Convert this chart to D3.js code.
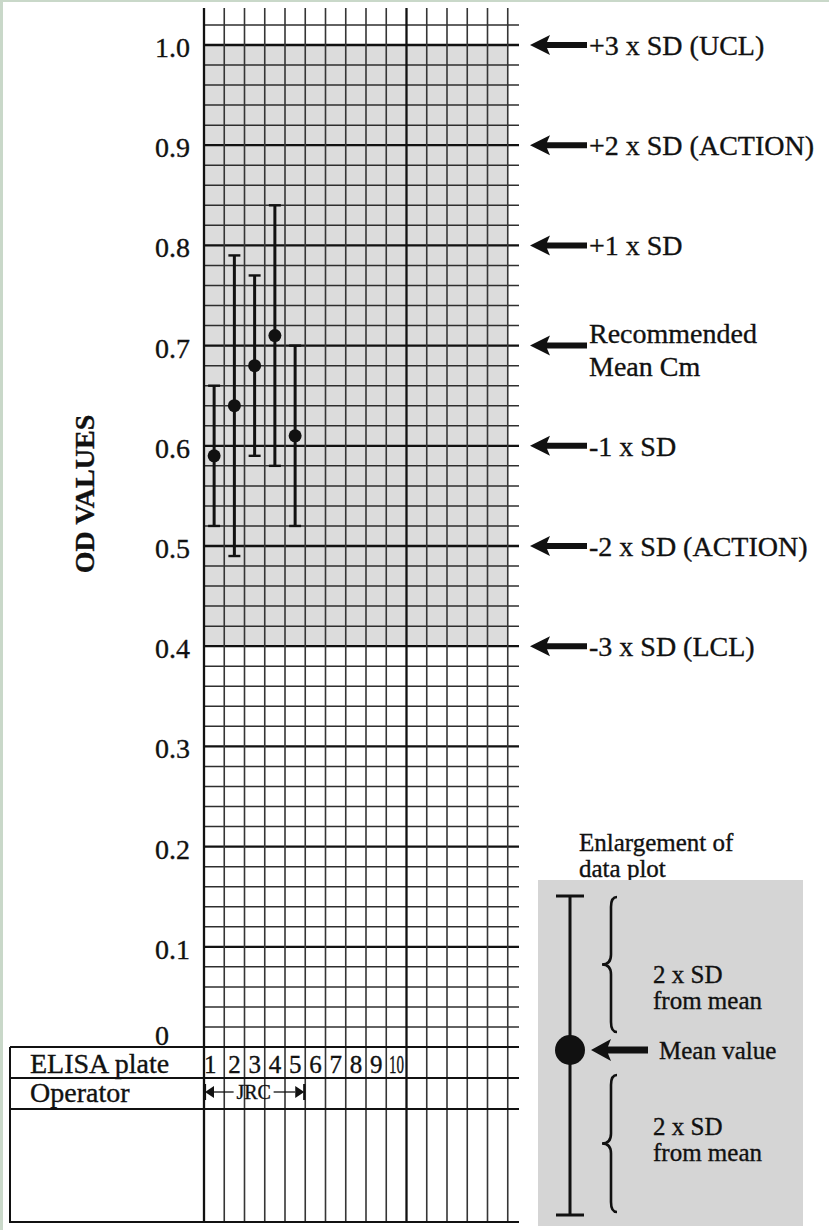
<!DOCTYPE html>
<html>
<head>
<meta charset="utf-8">
<script src="https://cdn.jsdelivr.net/npm/d3@7"></script>
<style>
  html, body { margin: 0; padding: 0; background: #fff; }
  svg { display: block; }
  text { font-family: "Liberation Serif", "DejaVu Serif", serif; fill: #111; stroke: #111; stroke-width: 0.35px; }
</style>
</head>
<body>
<div id="chart"></div>
<script>
// ---------- data ----------
const yTickValues = [0, 0.1, 0.2, 0.3, 0.4, 0.5, 0.6, 0.7, 0.8, 0.9, 1.0];
const yTickLabels = ["0", "0.1", "0.2", "0.3", "0.4", "0.5", "0.6", "0.7", "0.8", "0.9", "1.0"];
const plates = ["1", "2", "3", "4", "5", "6", "7", "8", "9", "10"];
const plotted = [1, 2, 3, 4, 5];
const means = [0.59, 0.64, 0.68, 0.71, 0.61];
const upper = [0.66, 0.79, 0.77, 0.84, 0.70];
const lower = [0.52, 0.49, 0.59, 0.58, 0.52];
const limitValues = [1.0, 0.9, 0.8, 0.7, 0.6, 0.5, 0.4];
const limitLabels = [["+3 x SD (UCL)"], ["+2 x SD (ACTION)"], ["+1 x SD"], ["Recommended", "Mean Cm"], ["-1 x SD"], ["-2 x SD (ACTION)"], ["-3 x SD (LCL)"]];
const shadedRange = [0.4, 1.0];
const operatorLabel = "JRC";
const operatorPlates = [1, 5];
const rowLabels = ["ELISA plate", "Operator"];
const axisTitle = "OD VALUES";
const insetTitle = ["Enlargement of", "data plot"];
const insetTexts = [["2 x SD", "from mean"], ["2 x SD", "from mean"]];
const insetMeanLabel = "Mean value";

// ---------- layout ----------
const W = 829, H = 1230;
const nCols = 15;
const x = d3.scaleLinear().domain([0, nCols]).range([204, 507.75]);
const y = d3.scaleLinear().domain([0, 1]).range([1047, 45]);
const gridRight = 519, gridTop = 8, tableLeft = 10, tableBottom = 1222;
const rowLines = [1047, 1078, 1109];

const svg = d3.select("#chart").append("svg").attr("width", W).attr("height", H);
svg.append("rect").attr("width", W).attr("height", H).attr("fill", "#fff");
// scan border
svg.append("rect").attr("x", 0).attr("y", 0).attr("width", 3).attr("height", H).attr("fill", "#c9d8c9");
svg.append("rect").attr("x", 0).attr("y", 0).attr("width", W).attr("height", 2).attr("fill", "#c9d8c9");

// shaded control region
svg.append("rect")
  .attr("x", x(0)).attr("y", y(shadedRange[1]))
  .attr("width", x(nCols) - x(0)).attr("height", y(shadedRange[0]) - y(shadedRange[1]))
  .attr("fill", "#dcdcdc");

// horizontal grid lines every 0.02
const hVals = d3.range(0, 52).map(i => +(i * 0.02).toFixed(2)).filter(v => v > 0);
svg.append("g").selectAll("line").data(hVals).join("line")
  .attr("x1", x(0)).attr("x2", gridRight)
  .attr("y1", d => y(d)).attr("y2", d => y(d))
  .attr("stroke", d => (Math.round(d * 100) % 10 === 0) ? "#111" : "#2e2e2e")
  .attr("stroke-width", d => (Math.round(d * 100) % 10 === 0) ? 2.3 : 1.5);

// vertical grid lines
const vIdx = d3.range(0, nCols + 1);
svg.append("g").selectAll("line").data(vIdx).join("line")
  .attr("x1", d => x(d)).attr("x2", d => x(d))
  .attr("y1", gridTop).attr("y2", tableBottom + 1)
  .attr("stroke", d => (d === 0 || d === 10) ? "#111" : "#353535")
  .attr("stroke-width", d => (d === 0 || d === 10) ? 2.3 : 1.6);

// table lines
svg.append("g").selectAll("line").data(rowLines.concat([tableBottom])).join("line")
  .attr("x1", tableLeft).attr("x2", gridRight)
  .attr("y1", d => d).attr("y2", d => d)
  .attr("stroke", "#111").attr("stroke-width", 2);
svg.append("line").attr("x1", tableLeft).attr("x2", tableLeft)
  .attr("y1", rowLines[0]).attr("y2", tableBottom + 1)
  .attr("stroke", "#111").attr("stroke-width", 2);

// y tick labels
svg.append("g").selectAll("text").data(yTickValues).join("text")
  .attr("x", (d, i) => d === 0 ? 162 : 190)
  .attr("y", d => d === 0 ? y(d) - 2 : y(d) + 12)
  .attr("text-anchor", d => d === 0 ? "middle" : "end")
  .attr("font-size", 28)
  .text((d, i) => yTickLabels[i]);

// axis title
svg.append("text")
  .attr("transform", "translate(94,494) rotate(-90)")
  .attr("text-anchor", "middle")
  .attr("font-size", 28).attr("font-weight", "bold")
  .text(axisTitle);

// row labels
svg.append("g").selectAll("text").data(rowLabels).join("text")
  .attr("x", 30).attr("y", (d, i) => [1073, 1102][i])
  .attr("font-size", 28).text(d => d);

// plate numbers
svg.append("g").selectAll("text").data(plates).join("text")
  .attr("x", (d, i) => x(i + 0.5) + (i === 0 ? -4 : 0))
  .attr("y", 1073)
  .attr("text-anchor", "middle")
  .attr("font-size", 25)
  .each(function(d) { if (d.length > 1) d3.select(this).attr("textLength", 15).attr("lengthAdjust", "spacingAndGlyphs"); })
  .text(d => d);

// operator span
const oy = 1092;
const ox1 = x(operatorPlates[0] - 1) + 1, ox2 = x(operatorPlates[1]) - 1;
const og = svg.append("g").attr("fill", "#111").attr("stroke", "#111");
og.append("line").attr("x1", ox1).attr("x2", ox1).attr("y1", oy - 8).attr("y2", oy + 8).attr("stroke-width", 2.2);
og.append("line").attr("x1", ox2).attr("x2", ox2).attr("y1", oy - 8).attr("y2", oy + 8).attr("stroke-width", 2.2);
og.append("path").attr("d", `M${ox1},${oy} L${ox1 + 9},${oy - 6} L${ox1 + 9},${oy + 6} Z`).attr("stroke", "none");
og.append("path").attr("d", `M${ox2},${oy} L${ox2 - 9},${oy - 6} L${ox2 - 9},${oy + 6} Z`).attr("stroke", "none");
const omid = (ox1 + ox2) / 2;
og.append("line").attr("x1", ox1 + 9).attr("x2", omid - 21).attr("y1", oy).attr("y2", oy).attr("stroke-width", 1.3);
og.append("line").attr("x1", omid + 19).attr("x2", ox2 - 9).attr("y1", oy).attr("y2", oy).attr("stroke-width", 1.3);
svg.append("text").attr("x", omid - 1).attr("y", oy + 7).attr("text-anchor", "middle")
  .attr("font-size", 20).text(operatorLabel);

// error bars
const eg = svg.append("g");
plotted.forEach((p, i) => {
  const cx = x(p - 0.5);
  eg.append("line").attr("x1", cx).attr("x2", cx).attr("y1", y(upper[i])).attr("y2", y(lower[i]))
    .attr("stroke", "#111").attr("stroke-width", 3);
  [upper[i], lower[i]].forEach(v => {
    eg.append("line").attr("x1", cx - 6).attr("x2", cx + 6).attr("y1", y(v)).attr("y2", y(v))
      .attr("stroke", "#111").attr("stroke-width", 2.4);
  });
  eg.append("circle").attr("cx", cx).attr("cy", y(means[i])).attr("r", 6.5).attr("fill", "#111");
});

// left-pointing arrow helper
function arrowPath(xt, yc, xe, L, h, s) {
  return `M${xt},${yc} L${xt + L},${yc - h} L${xt + L - 3},${yc - s} L${xe},${yc - s} L${xe},${yc + s} L${xt + L - 3},${yc + s} L${xt + L},${yc + h} Z`;
}

// control-limit annotations
const ag = svg.append("g");
limitValues.forEach((v, i) => {
  const yc = y(v);
  ag.append("path").attr("d", arrowPath(530, yc, 587, 20, 10, 3)).attr("fill", "#111");
  const lines = limitLabels[i];
  if (lines.length === 1) {
    ag.append("text").attr("x", 589).attr("y", yc + 10).attr("font-size", 28).text(lines[0]);
  } else {
    lines.forEach((t, j) => {
      ag.append("text").attr("x", 589).attr("y", yc - 3 + j * 33).attr("font-size", 28).text(t);
    });
  }
});

// ---------- inset: enlargement ----------
const ig = svg.append("g");
insetTitle.forEach((t, j) => {
  ig.append("text").attr("x", 579).attr("y", 851 + j * 26).attr("font-size", 25).text(t);
});
ig.append("rect").attr("x", 538).attr("y", 880).attr("width", 265).attr("height", 346).attr("fill", "#d5d5d5");
const ix = 570, iTop = 896, iBot = 1215, iMean = 1050;
ig.append("line").attr("x1", ix).attr("x2", ix).attr("y1", iTop).attr("y2", iBot).attr("stroke", "#111").attr("stroke-width", 3);
[iTop, iBot].forEach(v => ig.append("line").attr("x1", ix - 14).attr("x2", ix + 14).attr("y1", v).attr("y2", v).attr("stroke", "#111").attr("stroke-width", 3));
ig.append("circle").attr("cx", ix).attr("cy", iMean).attr("r", 15).attr("fill", "#111");
ig.append("path").attr("d", arrowPath(591, iMean, 648, 20, 11, 3.5)).attr("fill", "#111");
ig.append("text").attr("x", 659).attr("y", iMean + 9).attr("font-size", 25).text(insetMeanLabel);

function bracePath(xl, y1, y2, w, tip) {
  const ym = (y1 + y2) / 2;
  return `M${xl + w},${y1} Q${xl},${y1} ${xl},${y1 + 10} L${xl},${ym - 10} Q${xl},${ym} ${tip},${ym} Q${xl},${ym} ${xl},${ym + 10} L${xl},${y2 - 10} Q${xl},${y2} ${xl + w},${y2}`;
}
[[897, 1032], [1075, 1212]].forEach(([a, b]) => {
  ig.append("path").attr("d", bracePath(611, a, b, 6, 602)).attr("fill", "none")
    .attr("stroke", "#111").attr("stroke-width", 2.6);
});
insetTexts.forEach((lines, k) => {
  const base = [983, 1135][k];
  lines.forEach((t, j) => {
    ig.append("text").attr("x", 653).attr("y", base + j * 26).attr("font-size", 25).text(t);
  });
});
</script>
</body>
</html>
